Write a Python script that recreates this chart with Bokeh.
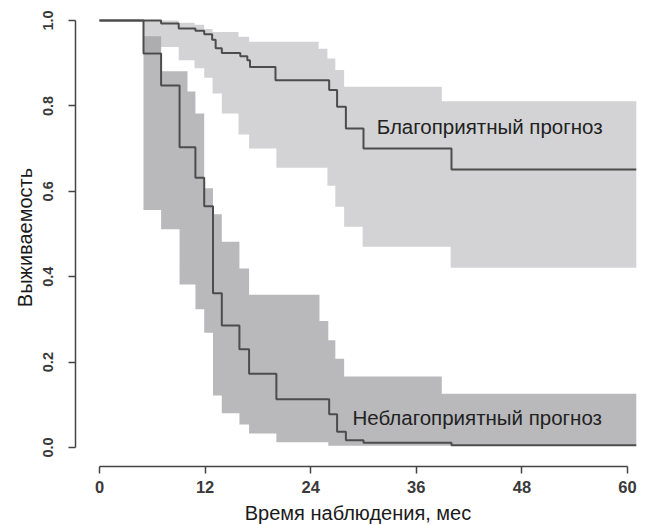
from bokeh.plotting import figure
from bokeh.models import Range1d, Label, FixedTicker, NumeralTickFormatter
from bokeh.embed import file_html
from bokeh.resources import INLINE

# ---- data (months, survival probability) ----
# Favourable prognosis: Kaplan-Meier estimate
fav_t = [0, 7.0, 9.0, 10.9, 11.9, 12.8, 13.2, 13.9, 16.0, 16.8, 17.1, 20.0, 26.1, 27.0, 28.0, 30.0, 40.0, 61.0]
fav_s = [1.0, 0.993, 0.981, 0.976, 0.968, 0.955, 0.935, 0.924, 0.916, 0.907, 0.891, 0.860, 0.837, 0.798, 0.747, 0.700, 0.651, 0.651]
# Favourable prognosis: confidence band
fav_band_t = [0, 5.0, 7.0, 9.0, 10.8, 11.9, 12.85, 13.9, 15.8, 17.0, 20.1, 24.9, 25.9, 26.8, 27.8, 29.9, 38.9, 39.9, 61.0]
fav_upper = [1.0, 1.0, 1.0, 0.995, 0.99, 0.98, 0.973, 0.973, 0.962, 0.950, 0.950, 0.934, 0.911, 0.884, 0.845, 0.845, 0.811, 0.811, 0.811]
fav_lower = [1.0, 0.927, 0.938, 0.907, 0.888, 0.866, 0.829, 0.782, 0.733, 0.700, 0.655, 0.655, 0.613, 0.564, 0.517, 0.470, 0.470, 0.421, 0.421]

# Unfavourable prognosis: Kaplan-Meier estimate
unf_t = [0, 5.0, 7.0, 9.1, 10.9, 11.9, 12.9, 13.9, 15.9, 17.0, 20.1, 26.1, 27.0, 28.0, 30.0, 40.0, 61.0]
unf_s = [1.0, 0.923, 0.848, 0.703, 0.632, 0.565, 0.361, 0.286, 0.230, 0.173, 0.113, 0.078, 0.037, 0.017, 0.011, 0.005, 0.005]
# Unfavourable prognosis: confidence band
unf_band_t = [0, 5.0, 7.0, 9.1, 10.0, 10.9, 11.9, 12.9, 13.9, 15.9, 17.0, 20.1, 25.0, 26.0, 26.8, 27.8, 38.9, 61.0]
unf_upper = [1.0, 0.963, 0.881, 0.881, 0.834, 0.782, 0.607, 0.546, 0.482, 0.419, 0.358, 0.358, 0.296, 0.251, 0.208, 0.166, 0.126, 0.126]
unf_lower = [1.0, 0.556, 0.511, 0.382, 0.382, 0.324, 0.269, 0.122, 0.080, 0.054, 0.033, 0.012, 0.012, 0.004, 0.004, 0.004, 0.004, 0.004]

x_ticks = [0, 12, 24, 36, 48, 60]
y_ticks = [0.0, 0.2, 0.4, 0.6, 0.8, 1.0]

label_fav = "Благоприятный прогноз"
label_unf = "Неблагоприятный прогноз"
x_title = "Время наблюдения, мес"
y_title = "Выживаемость"

FONT = "Liberation Sans"

p = figure(
    frame_width=565, frame_height=458,
    x_range=Range1d(-2.727, 61.48), y_range=Range1d(-0.0445, 1.0281),
    output_backend="svg", toolbar_location=None,
    min_border_left=75, min_border_right=8, min_border_top=8, min_border_bottom=58,
    background_fill_color="white", border_fill_color="white",
)
p.outline_line_color = None
p.grid.visible = False

# bands
p.varea_step(x=fav_band_t, y1=fav_lower, y2=fav_upper, step_mode="after",
             fill_color="#d3d3d5", fill_alpha=1.0)
p.varea_step(x=unf_band_t, y1=unf_lower, y2=unf_upper, step_mode="after",
             fill_color="#9e9ea2", fill_alpha=0.72)

# KM curves
p.step(x=fav_t, y=fav_s, mode="after", line_color="#4c4c4c", line_width=2)
p.step(x=unf_t, y=unf_s, mode="after", line_color="#4c4c4c", line_width=2)

# labels
p.add_layout(Label(x=31.5, y=0.752, text=label_fav, text_font=FONT,
                   text_font_size="20.5px", text_baseline="middle", text_color="#222222"))
p.add_layout(Label(x=28.75, y=0.070, text=label_unf, text_font=FONT,
                   text_font_size="20.5px", text_baseline="middle", text_color="#222222"))

# axes
xa = p.xaxis[0]
xa.ticker = FixedTicker(ticks=x_ticks)
xa.bounds = (0, 60)
ya = p.yaxis[0]
ya.ticker = FixedTicker(ticks=y_ticks)
ya.bounds = (0, 1)
ya.formatter = NumeralTickFormatter(format="0.0")
ya.major_label_orientation = "vertical"

for ax in (xa, ya):
    ax.axis_line_color = "#444444"
    ax.axis_line_width = 1.5
    ax.major_tick_line_color = "#444444"
    ax.major_tick_line_width = 1.5
    ax.major_tick_in = 0
    ax.major_tick_out = 7
    ax.minor_tick_line_color = None
    ax.major_label_text_font = FONT
    ax.major_label_text_font_style = "bold"
    ax.major_label_text_color = "#3a3a3a"
    ax.axis_label_text_font = FONT
    ax.axis_label_text_font_size = "20px"
    ax.axis_label_text_font_style = "normal"
    ax.axis_label_text_color = "#1a1a1a"

xa.major_label_text_font_size = "16.5px"
ya.major_label_text_font_size = "14.5px"
xa.axis_label = x_title
xa.major_label_standoff = 7
xa.axis_label_standoff = 6
ya.axis_label = y_title
ya.major_label_standoff = 15
ya.axis_label_standoff = 5

open("out.html", "w").write(file_html(p, INLINE))
